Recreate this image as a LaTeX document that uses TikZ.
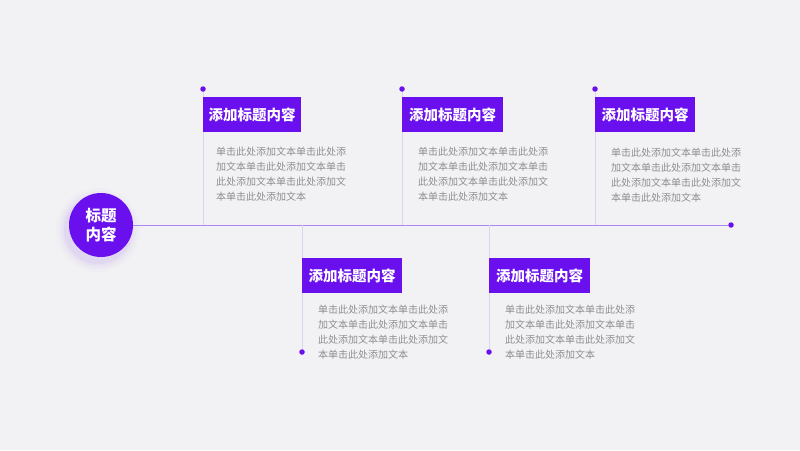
\documentclass[tikz,border=0pt]{standalone}
\usepackage{fontspec}
\setmainfont{Noto Sans CJK SC}
\usetikzlibrary{positioning}

\definecolor{bgcol}{HTML}{F2F2F4}
\definecolor{purp}{HTML}{6A10EE}
\definecolor{linecol}{HTML}{AE86F2}
\definecolor{stemcol}{HTML}{DCD3EE}
\definecolor{bodycol}{HTML}{8E8E92}

\newcommand{\bodytxt}{单击此处添加文本单击此处添\\加文本单击此处添加文本单击\\此处添加文本单击此处添加文\\本单击此处添加文本}

\begin{document}
\begin{tikzpicture}[x=1pt, y=-1pt,
    dotnode/.style={circle, fill=purp, inner sep=0pt, minimum size=5.5pt},
    titlebox/.style={fill=purp, text=white, font=\fontsize{14.5}{16}\selectfont\bfseries,
        minimum width=98pt, minimum height=35pt, inner sep=0pt, anchor=north west},
    bodytext/.style={text=bodycol, font=\fontsize{10}{15}\selectfont, align=left,
        inner sep=0pt, anchor=north west},
    stem/.style={stemcol, line width=0.7pt}]
    % Background
    \fill[bgcol] (0, 0) rectangle (800, 450);
    \useasboundingbox (0, 0) rectangle (800, 450);

    % Glow under the main circle
    \foreach \r/\o in {42/0.015, 39/0.025, 36/0.035, 34/0.045}
        \fill[purp, opacity=\o] (98, 230) circle (\r);

    % Main line
    \node[dotnode] (lineend) at (731, 225) {};
    \node[circle, fill=purp, minimum size=64pt, inner sep=0pt, text=white,
        align=center, font=\fontsize{15.5}{19}\selectfont\bfseries] (hub) at (101, 225) {标题\\内容};
    \draw[linecol, line width=0.9pt] (hub.east) -- (lineend);

    % Upper items
    \node[dotnode] (dotA) at (203, 89) {};
    \coordinate (footA) at (203, 225);
    \draw[stem] (dotA) -- (footA);
    \node[titlebox] (titleA) at (203, 97) {添加标题内容};
    \node[bodytext] (textA) at (216, 147) {\bodytxt};

    \node[dotnode] (dotB) at (402, 89) {};
    \coordinate (footB) at (402, 225);
    \draw[stem] (dotB) -- (footB);
    \node[titlebox, minimum width=101pt] (titleB) at (402, 97) {添加标题内容};
    \node[bodytext] (textB) at (418, 147) {\bodytxt};

    \node[dotnode] (dotC) at (595, 89) {};
    \coordinate (footC) at (595, 225);
    \draw[stem] (dotC) -- (footC);
    \node[titlebox, minimum width=100pt] (titleC) at (595, 97) {添加标题内容};
    \node[bodytext] (textC) at (611, 148) {\bodytxt};

    % Lower items
    \node[dotnode] (dotD) at (302, 352) {};
    \coordinate (footD) at (302, 225);
    \draw[stem] (footD) -- (dotD);
    \node[titlebox, minimum width=100pt] (titleD) at (302, 258) {添加标题内容};
    \node[bodytext] (textD) at (318, 305) {\bodytxt};

    \node[dotnode] (dotE) at (489, 352) {};
    \coordinate (footE) at (489, 225);
    \draw[stem] (footE) -- (dotE);
    \node[titlebox, minimum width=101pt] (titleE) at (489, 258) {添加标题内容};
    \node[bodytext] (textE) at (505, 305) {\bodytxt};
\end{tikzpicture}
\end{document}
